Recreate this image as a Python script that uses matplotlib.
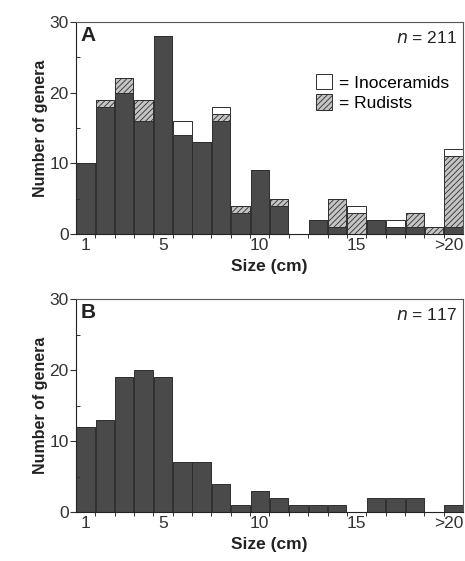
import matplotlib.pyplot as plt
import numpy as np
from matplotlib.patches import Patch

plt.rcParams['font.family'] = ['Liberation Sans', 'DejaVu Sans']

# size classes 1..20 (last one is ">20")
bins = np.arange(1, 21)
tick_pos = [1, 5, 10, 15, 20.5]
tick_lab = ["1", "5", "10", "15", ">20"]

# panel A: stacked counts
a_other = [10, 18, 20, 16, 28, 14, 13, 16, 3, 9, 4, 0, 2, 1, 0, 2, 1, 1, 0, 1]
a_rudists = [0, 1, 2, 3, 0, 0, 0, 1, 1, 0, 1, 0, 0, 4, 3, 0, 0, 2, 1, 10]
a_inoc = [0, 0, 0, 0, 0, 2, 0, 1, 0, 0, 0, 0, 0, 0, 1, 0, 1, 0, 0, 1]

# panel B
b_counts = [12, 13, 19, 20, 19, 7, 7, 4, 1, 3, 2, 1, 1, 1, 0, 2, 2, 2, 0, 1]

dark = '#4a4a4a'
edge = '#2e2e2e'
plt.rcParams['hatch.color'] = '#555555'
plt.rcParams['hatch.linewidth'] = 0.6

fig = plt.figure(figsize=(4.65, 5.61), dpi=100)
axA = fig.add_axes([0.163, 0.583, 0.833, 0.378])
axB = fig.add_axes([0.163, 0.087, 0.833, 0.380])

w = 0.95
a_other = np.array(a_other)
a_rudists = np.array(a_rudists)
a_inoc = np.array(a_inoc)
axA.bar(bins, a_other, width=w, color=dark, edgecolor=edge, linewidth=0.7)
axA.bar(bins, a_rudists, width=w, bottom=a_other, color='#c4c4c4', edgecolor=edge,
        linewidth=0.7, hatch='//////')
axA.bar(bins, a_inoc, width=w, bottom=a_other + a_rudists, color='white', edgecolor=edge,
        linewidth=0.7)

axB.bar(bins, b_counts, width=w, color=dark, edgecolor=edge, linewidth=0.7)

for ax, letter, n in [(axA, "A", "211"), (axB, "B", "117")]:
    ax.set_xlim(0.5, 20.5)
    ax.set_ylim(0, 30)
    ax.set_yticks([0, 10, 20, 30])
    ax.set_yticks([5, 15, 25], minor=True)
    ax.set_xticks(tick_pos)
    ax.set_xticklabels(tick_lab)
    ax.get_xticklabels()[-1].set_ha('right')
    ax.set_xticks(np.arange(1.5, 20.5, 1), minor=True)
    ax.tick_params(axis='x', which='major', length=0, labelsize=12.5, pad=3, colors='#333333')
    ax.tick_params(axis='x', which='minor', length=3, direction='out', width=0.7, colors='#333333')
    ax.tick_params(axis='y', which='major', length=4, direction='out', width=0.8,
                   labelsize=12.5, pad=1, colors='#333333')
    ax.tick_params(axis='y', which='minor', length=3, direction='in', width=0.7, colors='#333333')
    for s in ax.spines.values():
        s.set_linewidth(0.8)
        s.set_color('#555555')
    ax.spines['left'].set_color('#222222')
    ax.spines['bottom'].set_color('#222222')
    ax.set_xlabel("Size (cm)", fontsize=12.5, fontweight='bold', labelpad=4, color='#222222')
    ax.set_ylabel("Number of genera", fontsize=11.5, fontweight='bold', labelpad=1, color='#222222')
    ax.text(0.012, 0.935, letter, transform=ax.transAxes, fontsize=15, fontweight='bold',
            va='center', ha='left', color='#222222')
    ax.text(0.985, 0.925, r"$n$" + " = " + n, transform=ax.transAxes, fontsize=12.5,
            va='center', ha='right', color='#222222')

handles = [Patch(facecolor='white', edgecolor=edge, linewidth=0.7),
           Patch(facecolor='#c4c4c4', edgecolor=edge, linewidth=0.7, hatch='//////')]
axA.legend(handles, ["= Inoceramids", "= Rudists"], loc='upper left',
           bbox_to_anchor=(0.62, 0.755), frameon=False, fontsize=12.5,
           handlelength=0.9, handleheight=1.0, handletextpad=0.4,
           borderpad=0, borderaxespad=0, labelspacing=0.2)

plt.savefig("out.png", dpi=100)
plt.close()
